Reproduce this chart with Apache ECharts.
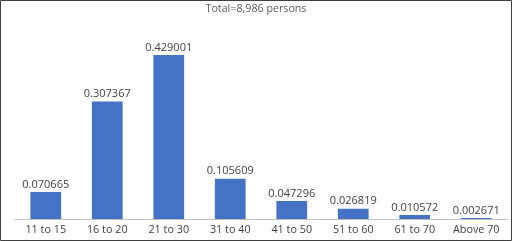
<!DOCTYPE html>
<html><head><meta charset="utf-8">
<script src="https://cdn.jsdelivr.net/npm/echarts@6/dist/echarts.min.js"></script>
<style>html,body{margin:0;padding:0;background:#fff}#c{width:512px;height:241px}</style>
</head><body><div id="c"></div>
<script>
const categories = ["11 to 15","16 to 20","21 to 30","31 to 40","41 to 50","51 to 60","61 to 70","Above 70"];
const values = [0.070665,0.307367,0.429001,0.105609,0.047296,0.026819,0.010572,0.002671];
const titleText = "Total=8,986 persons";
const chart = echarts.init(document.getElementById('c'), null, {renderer:'canvas'});
chart.setOption({
  animation:false,
  backgroundColor:'#fff',
  title:{text:titleText,left:'center',top:-2,textStyle:{fontFamily:'Open Sans',fontSize:10.7,fontWeight:'normal',color:'#595959'}},
  graphic:[{type:'rect',shape:{x:0.5,y:0.5,width:511,height:240},style:{fill:'none',stroke:'#404040',lineWidth:1},z:100}],
  grid:{left:15,right:5,top:28,bottom:22},
  xAxis:{type:'category',data:categories,axisLine:{lineStyle:{color:'#bfbfbf'}},axisTick:{show:false},
    axisLabel:{color:'#404040',fontFamily:'Open Sans',fontSize:10.8,margin:5,interval:0}},
  yAxis:{type:'value',min:0,max:0.5,show:false,splitLine:{show:false}},
  series:[{type:'bar',data:values,barWidth:'50%',itemStyle:{color:'#4472C4'},
    label:{show:true,position:'top',distance:2,color:'#404040',fontFamily:'Open Sans',fontSize:11,formatter:p=>String(p.value)}}]
});
</script></body></html>
